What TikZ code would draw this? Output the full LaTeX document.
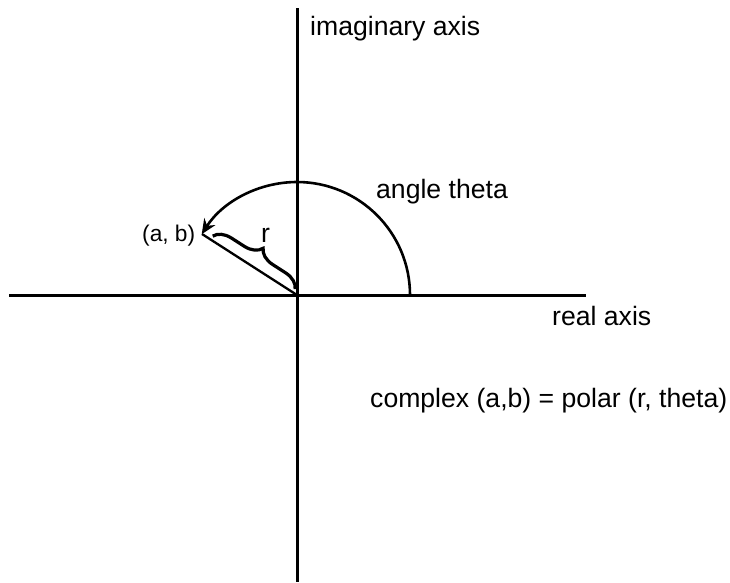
\documentclass[tikz,border=0pt]{standalone}
\usepackage{fontspec}
\setmainfont{Liberation Sans}
\usetikzlibrary{arrows.meta,decorations.pathreplacing,calc}
\begin{document}
\begin{tikzpicture}[x=1pt,y=-1pt,
  axis/.style={line width=3pt},
  thin line/.style={line width=2.3pt},
  lbl/.style={font=\fontsize{26.6}{31}\selectfont, inner sep=0pt, anchor=base west},
  smalllbl/.style={font=\fontsize{22.7}{27}\selectfont, inner sep=0pt, anchor=base west}]
\useasboundingbox (0,0) rectangle (730,582);
\coordinate (O) at (297,295);
\coordinate (top) at (297,8);
\coordinate (bot) at (297,582);
\coordinate (left) at (9,295);
\coordinate (right) at (586,295);
\coordinate (P) at (202,234);
\coordinate (A0) at (410,295);
\draw[axis] (top) -- (bot);
\draw[axis] (left) -- (right);
\draw[thin line] (P) -- (O);
\draw[line width=2.6pt,-{Stealth[length=15pt,width=13pt]}] (A0) arc[start angle=0,end angle=-147.5,radius=113];
\draw[line width=3.2pt,decorate,decoration={brace,amplitude=17pt,raise=4pt}]
  ($(P)!0.09!(O)$) -- ($(O)!0.04!(P)$) coordinate[midway] (bm);
\node[lbl] (im) at (310,35) {imaginary axis};
\node[lbl] (ang) at (376,198) {angle theta};
\node[lbl] (re) at (552,325) {real axis};
\node[lbl] (cx) at (370,407) {complex (a,b) = polar (r, theta)};
\node[smalllbl] (ab) at (142,241) {(a, b)};
\node[lbl] (r) at (261,242) {r};
\end{tikzpicture}
\end{document}
